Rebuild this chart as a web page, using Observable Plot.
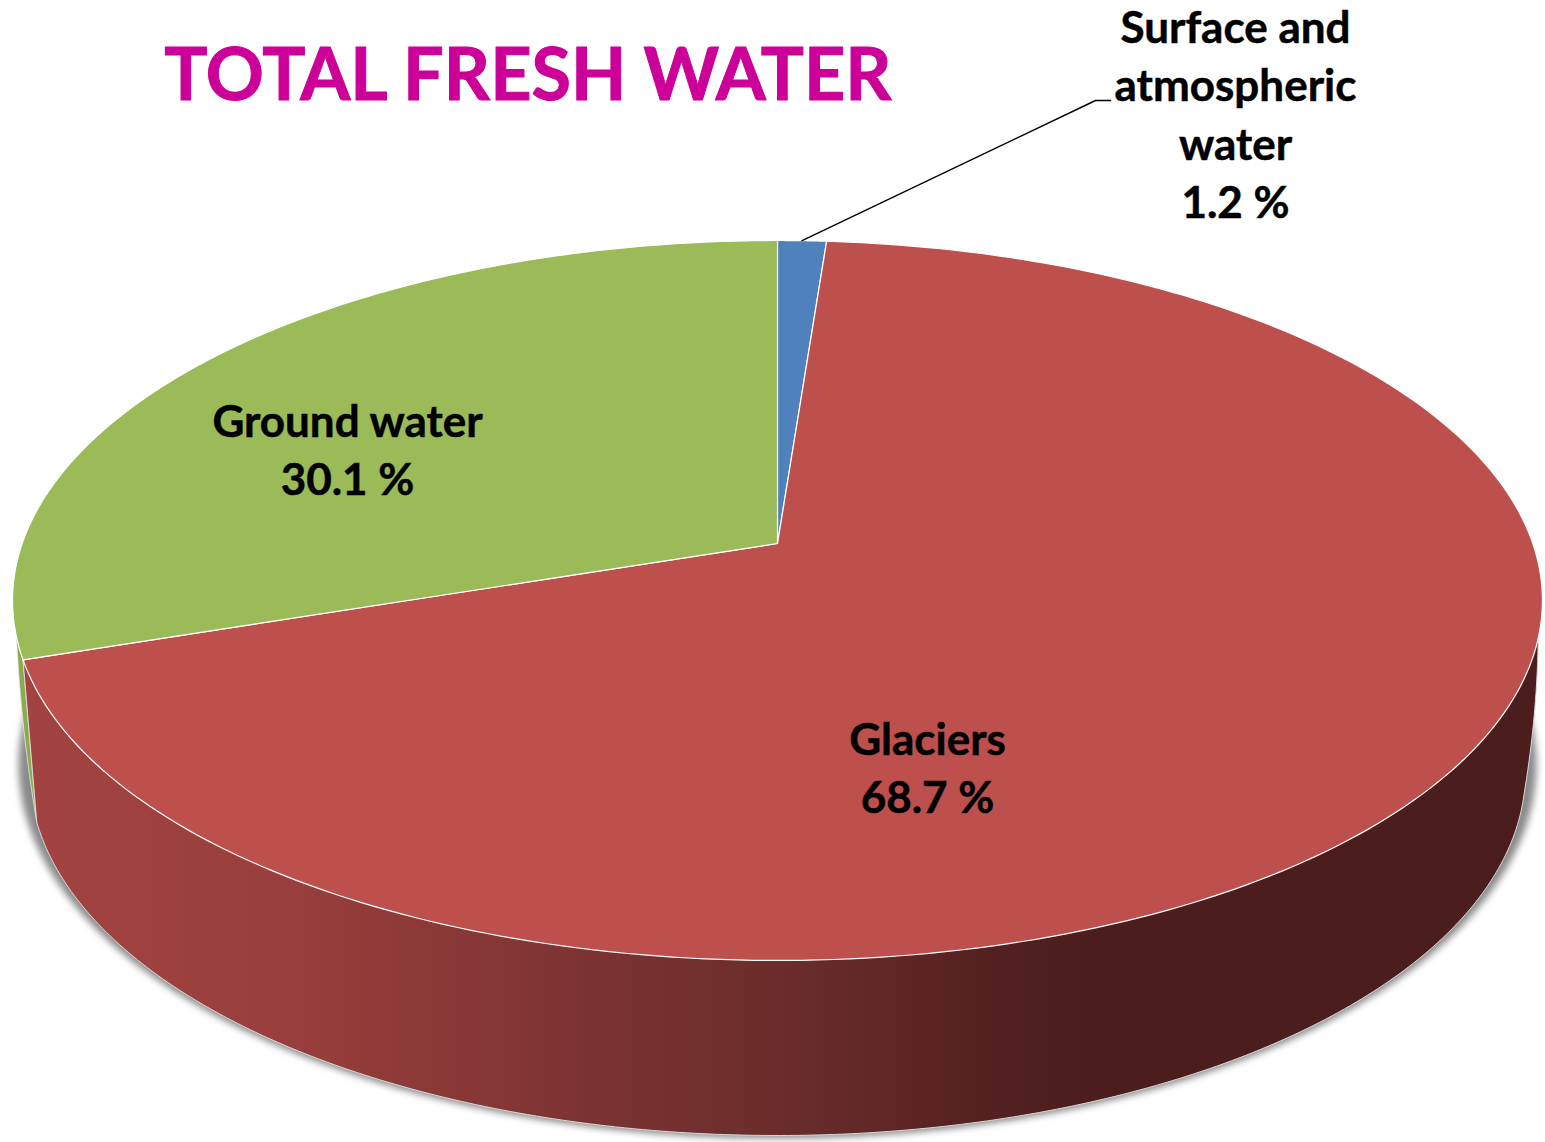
<!DOCTYPE html>
<html><head><meta charset="utf-8">
<script src="https://cdn.jsdelivr.net/npm/d3@7"></script>
<script src="https://cdn.jsdelivr.net/npm/@observablehq/plot@0.6"></script>
<style>html,body{margin:0;padding:0;background:#fff}svg{display:block}</style>
</head><body><div id="chart"></div>
<script>
const categories = ["Surface and atmospheric water", "Glaciers", "Ground water"];
const shares = [1.2, 68.7, 30.1];
const sliceColors = ["#4f81bd", "#bd4f4d", "#9bbb59"];
const titleText = "TOTAL FRESH WATER";
const labelLines = [
  ["Surface and", "atmospheric", "water", "1.2 %"],
  ["Glaciers", "68.7 %"],
  ["Ground water", "30.1 %"]
];
const labelCenters = [[1235, 28], [927, 740], [347, 422]];

// perspective of the pie's top face
const W = 1545, H = 1142, cx = 777, cy = 543, R = 755.3, k = 0.1583, A = 265;
const rad = d => d * Math.PI / 180;
const face = (deg, r = 1) => {
  const u = r * Math.sin(rad(deg)), v = r * Math.cos(rad(deg)), w = 1 + k * v;
  return {x: cx + R * u / w, y: (cy - A * v) / w};
};
// lower rim of the disc
const rim = (deg, rx = 748, ry = 364, yc = 771) =>
  ({x: cx + rx * Math.cos(rad(deg)), y: yc + ry * Math.sin(rad(deg))});
const steps = (a, b, n = 240) => d3.range(n + 1).map(i => a + (b - a) * i / n);
const bulge = (p, q, t, b) => ({x: p.x + (q.x - p.x) * t + b * 4 * t * (1 - t), y: p.y + (q.y - p.y) * t});

// slices, clockwise from 12 o'clock
let acc = 0;
const slices = shares.map((s, i) => {
  const a0 = acc / 100 * 360; acc += s; const a1 = acc / 100 * 360;
  return {i, a0, a1, pts: [face(0, 0), ...steps(a0, a1).map(d => face(d))]};
});
const groundEnd = slices[2].a0;      // green/red boundary on the rim
const redCorner = face(groundEnd);
const rimStart = 172, rimRight = 3.5;
const rimEndPt = rim(rimStart), rimRightPt = rim(rimRight);

const rightTop = face(105), leftTop = face(255.2);
const sideRed = [
  ...steps(0, 1, 20).map(t => bulge(rightTop, rimRightPt, t, 3)),
  ...steps(rimRight, rimStart).map(d => rim(d)),
  redCorner,
  face(150)
];
const sideGreen = [
  redCorner,
  rimEndPt,
  ...steps(1, 0, 20).map(t => bulge(leftTop, rimEndPt, t, -2.8)),
  ...steps(255.2, groundEnd, 10).map(d => face(d))
];
const shadow = steps(0, 360).map(d => rim(d, 759, 374, 764));

const lineH = 58.5;
const labelRows = labelLines.flatMap((lines, i) =>
  lines.map((t, j) => ({t, x: labelCenters[i][0], y: labelCenters[i][1] + j * lineH})));

const leader = [face((slices[0].a0 + slices[0].a1) / 2), {x: 1095, y: 100}, {x: 1110, y: 100}];

const defs = () => {
  const d = d3.create("svg:defs");
  const g = d.append("linearGradient").attr("id", "sideGrad")
    .attr("gradientUnits", "userSpaceOnUse").attr("x1", 30).attr("x2", 1525).attr("y1", 0).attr("y2", 0);
  [[0, "#a24341"], [0.18, "#983e3c"], [0.38, "#7a3331"], [0.515, "#692c2a"], [0.65, "#522020"], [0.716, "#4b1d1d"], [1, "#4b1d1d"]]
    .forEach(([o, c]) => g.append("stop").attr("offset", o).attr("stop-color", c));
  return d.node();
};

const font = "Lato, Carlito, Calibri, sans-serif";
const svg = Plot.plot({
  width: W, height: H, margin: 0,
  style: {background: "#fff", overflow: "hidden"},
  x: {domain: [0, W], range: [0, W], axis: null},
  y: {domain: [0, H], range: [0, H], axis: null},
  marks: [
    defs,
    Plot.line(shadow, {x: "x", y: "y", curve: "linear-closed", fill: "#8a8a8a", stroke: "none", imageFilter: "blur(3.5px)"}),
    Plot.line(sideGreen, {x: "x", y: "y", curve: "linear-closed", fill: "#8cab4e", stroke: "#e8e8e8", strokeWidth: 0.8}),
    Plot.line(sideRed, {x: "x", y: "y", curve: "linear-closed", fill: "url(#sideGrad)", stroke: "#d8d8d8", strokeWidth: 1}),
    ...slices.map(s => Plot.line(s.pts, {x: "x", y: "y", curve: "linear-closed", fill: sliceColors[s.i], stroke: "#fff", strokeWidth: 1.2})),
    Plot.line(leader, {x: "x", y: "y", stroke: "#000", strokeWidth: 1.5}),
    Plot.text([titleText], {x: 527.5, y: 76, text: d => d, fontFamily: font, fontWeight: 700, fontSize: 72, fill: "#cc0099", stroke: "#cc0099", strokeWidth: 1, textAnchor: "middle", lineAnchor: "middle"}),
    Plot.text(labelRows, {x: "x", y: "y", text: "t", fontFamily: font, fontWeight: 700, fontSize: 44, fill: "#000", stroke: "#000", strokeWidth: 0.5, textAnchor: "middle", lineAnchor: "middle"})
  ]
});
document.getElementById("chart").append(svg);
</script></body></html>
